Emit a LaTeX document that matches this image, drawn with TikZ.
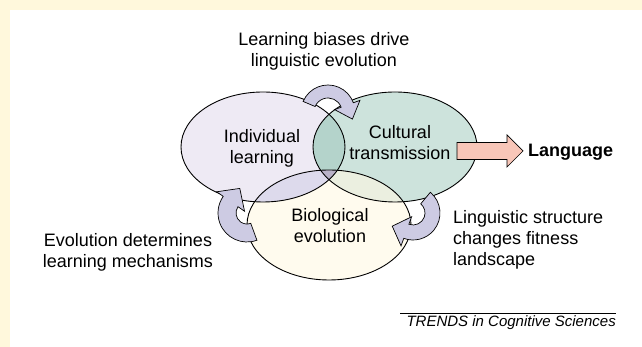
\documentclass[tikz,border=0pt]{standalone}
\usepackage{fontspec}
\setmainfont{Liberation Sans}
\usetikzlibrary{calc}
\definecolor{pagecream}{RGB}{255,248,220}
\definecolor{learnfill}{RGB}{238,234,244}
\definecolor{cultfill}{RGB}{205,227,220}
\definecolor{biofill}{RGB}{255,251,238}
\definecolor{lcfill}{RGB}{180,211,203}
\definecolor{lbfill}{RGB}{221,218,236}
\definecolor{cbfill}{RGB}{235,239,224}
\definecolor{allfill}{RGB}{185,178,200}
\definecolor{arrowlav}{RGB}{205,203,227}
\definecolor{blockpink}{RGB}{248,198,184}

\begin{document}
\begin{tikzpicture}[
    x=1pt, y=1pt,
    blob/.style={draw, line width=0.9pt},
    cyclearrow/.style={draw, fill=arrowlav, line width=0.7pt, line join=miter},
    txt/.style={font=\fontsize{18}{21}\selectfont, align=center, inner sep=0pt}
]
    % frame
    \useasboundingbox (0,0) rectangle (642,347);
    \fill[pagecream] (0,0) rectangle (642,347);
    \fill[white] (10,0) rectangle (642,337);

    \coordinate (lc) at (263,200);
    \coordinate (cc) at (395,200);
    \coordinate (bc) at (329,122);

    % the three sets
    \fill[learnfill] (lc) ellipse [x radius=82pt, y radius=55pt];
    \fill[cultfill] (cc) ellipse [x radius=82pt, y radius=55pt];
    \fill[biofill] (bc) ellipse [x radius=82pt, y radius=55pt];
    \begin{scope}
        \clip (cc) ellipse [x radius=82pt, y radius=55pt];
        \fill[cbfill] (bc) ellipse [x radius=82pt, y radius=55pt];
    \end{scope}
    \begin{scope}
        \clip (lc) ellipse [x radius=82pt, y radius=55pt];
        \fill[lcfill] (cc) ellipse [x radius=82pt, y radius=55pt];
        \fill[lbfill] (bc) ellipse [x radius=82pt, y radius=55pt];
        \clip (cc) ellipse [x radius=82pt, y radius=55pt];
        \fill[allfill] (bc) ellipse [x radius=82pt, y radius=55pt];
    \end{scope}
    \draw[blob] (lc) ellipse [x radius=82pt, y radius=55pt];
    \draw[blob] (cc) ellipse [x radius=82pt, y radius=55pt];
    \draw[blob] (bc) ellipse [x radius=82pt, y radius=55pt];

    % feedback arrows
    \coordinate (topc) at (328,235);
    \coordinate (leftc) at (247,134);
    \coordinate (rightc) at (413,134);
    \draw[cyclearrow] ($(topc)+(157:27pt)$) arc[start angle=157, end angle=20, radius=27pt]
        -- ($(topc)+(20:34pt)$) -- ($(topc)+(20:20.5pt)+(-70:15pt)$) -- ($(topc)+(20:7pt)$)
        -- ($(topc)+(20:14pt)$) arc[start angle=20, end angle=157, radius=14pt] -- cycle;
    \draw[cyclearrow] ($(leftc)+(-70:29pt)$) arc[start angle=-70, end angle=-215, radius=29pt]
        -- ($(leftc)+(-215:37pt)$) -- ($(leftc)+(-215:20pt)+(-305:16pt)$) -- ($(leftc)+(-215:3pt)$)
        -- ($(leftc)+(-215:11pt)$) arc[start angle=-215, end angle=-70, radius=11pt] -- cycle;
    \draw[cyclearrow] ($(rightc)+(50:27pt)$) arc[start angle=50, end angle=-110, radius=27pt]
        -- ($(rightc)+(-110:35pt)$) -- ($(rightc)+(-110:19.5pt)+(-200:15pt)$) -- ($(rightc)+(-110:4pt)$)
        -- ($(rightc)+(-110:12pt)$) arc[start angle=-110, end angle=50, radius=12pt] -- cycle;

    % output arrow
    \draw[fill=blockpink, line width=0.7pt] (457,187.5) -- (507,187.5) -- (507,180) -- (523,196)
        -- (507,212) -- (507,204.5) -- (457,204.5) -- cycle;

    % labels
    \node[txt] (learn) at (262,198.6) {Individual\\learning};
    \node[txt] (cult) at (400,204) {Cultural\\transmission};
    \node[txt] (bio) at (330,121.5) {Biological\\evolution};
    \node[txt] (lang) [anchor=base west, font=\fontsize{18}{21}\selectfont\bfseries] at (528,190) {Language};
    \node[txt] (bias) at (324,295.5) {Learning biases drive\\linguistic evolution};
    \node[txt] (evo) at (128,95) {Evolution determines\\learning mechanisms};
    \node[txt, align=left, anchor=west] (fit) at (453,107.6) {Linguistic structure\\changes fitness\\landscape};

    % journal tag
    \node[inner sep=0pt, anchor=base east, font=\fontsize{15}{18}\selectfont\itshape] (tag) at (616,20) {TRENDS in Cognitive Sciences};
    \draw[line width=0.7pt] (400,34) -- (616,34);
\end{tikzpicture}
\end{document}
